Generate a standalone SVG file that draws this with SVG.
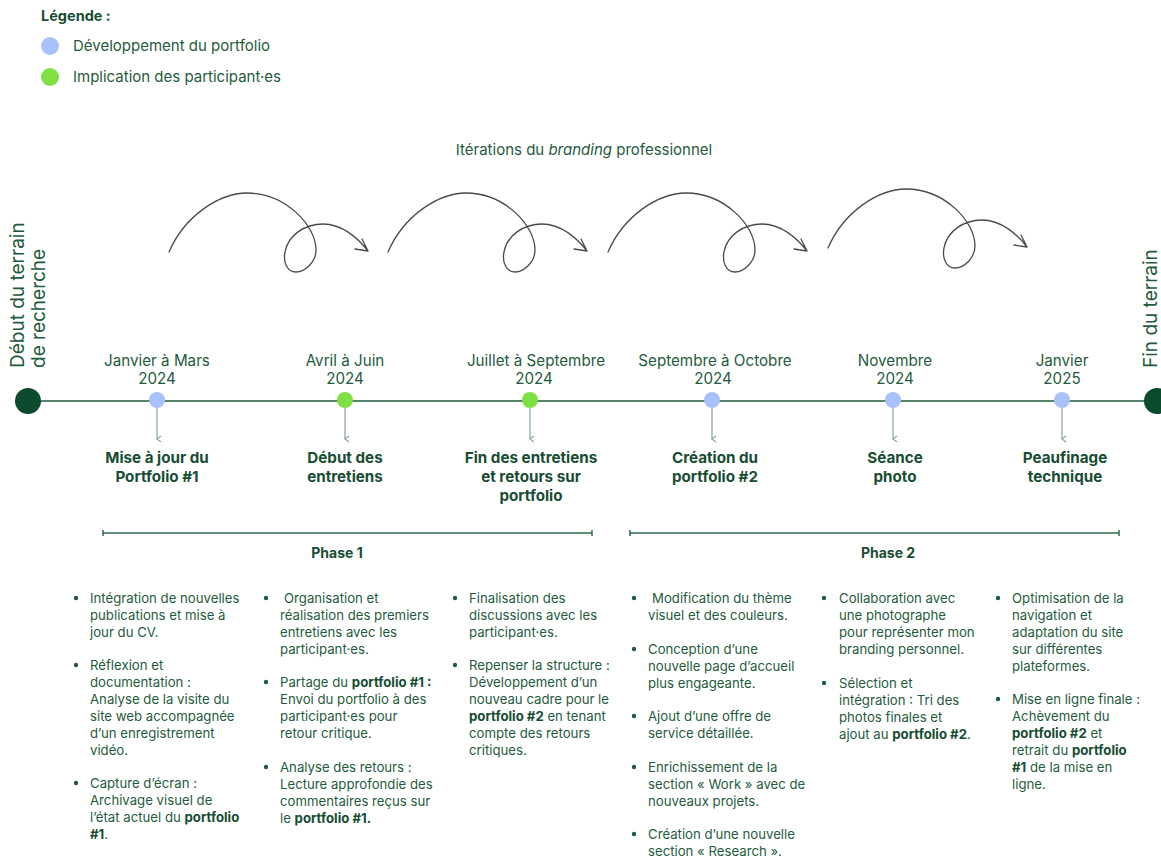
<svg xmlns="http://www.w3.org/2000/svg" width="1161" height="861" viewBox="0 0 1161 861">
<defs>
<style>
text{font-family:Inter,"DejaVu Sans",sans-serif;fill:#1f5b3d}
.leg{font-size:15px}
.legb{font-size:14.5px;font-weight:700;fill:#174d33}
.vert{font-size:19px}
.date{font-size:15.2px;text-anchor:middle}
.title{font-size:15.2px;font-weight:700;text-anchor:middle;fill:#174d33}
.phase{font-size:14px;font-weight:700;text-anchor:middle;fill:#174d33}
.bl{font-size:13.2px}
.bl tspan.b{font-weight:700;fill:#174d33}
.dot{fill:#1f5b3d}
.loop{fill:none;stroke:#4a4a4a;stroke-width:1.3;stroke-linecap:round;stroke-linejoin:round}
.tick{stroke:#8fa99a;stroke-width:1.3}
.ph{stroke:#2e6a4a;stroke-width:1.5}
</style>
<marker id="ah" markerWidth="8" markerHeight="8" refX="4" refY="6" orient="auto" markerUnits="userSpaceOnUse">
<path d="M1,2 L4,6 L7,2" fill="none" stroke="#8fa99a" stroke-width="1.2"/>
</marker>
<path id="squig" class="loop" d="M169,252 C185,215 220,193 247,193 C285,193 316,225 316,250 C316,262 305,272 296,272 C287,272 283,262 285,252 C288,235 305,224 323,224 C342,224 358,238 368,251 M362,239 L368,251 L355,249"/>
</defs>

<g id="legend">
<text class="legb" x="41" y="21">Légende :</text>
<circle cx="50" cy="46" r="9" fill="#a9c1fa"/>
<text class="leg" x="73" y="51">Développement du portfolio</text>
<circle cx="50" cy="77" r="9" fill="#7ee043"/>
<text class="leg" x="73" y="82">Implication des participant·es</text>
</g>

<g id="iterations">
<text class="leg" x="584" y="155" text-anchor="middle">Itérations du <tspan font-style="italic">branding</tspan> professionnel</text>
<use href="#squig"/>
<use href="#squig" transform="translate(219,0)"/>
<use href="#squig" transform="translate(439,0)"/>
<use href="#squig" transform="translate(659,-4)"/>
</g>

<g id="connectors">
<line x1="27" y1="401" x2="1161" y2="401" stroke="#1f5b3d" stroke-width="1.6"/>
<line class="tick" x1="157" y1="408" x2="157" y2="439" marker-end="url(#ah)"/>
<line class="tick" x1="345" y1="408" x2="345" y2="439" marker-end="url(#ah)"/>
<line class="tick" x1="530" y1="408" x2="530" y2="439" marker-end="url(#ah)"/>
<line class="tick" x1="712" y1="408" x2="712" y2="439" marker-end="url(#ah)"/>
<line class="tick" x1="893" y1="408" x2="893" y2="439" marker-end="url(#ah)"/>
<line class="tick" x1="1062" y1="408" x2="1062" y2="439" marker-end="url(#ah)"/>
</g>

<g id="start">
<circle cx="28" cy="401" r="13" fill="#0b4a2c"/>
<text class="vert" transform="translate(24,368) rotate(-90)">Début du terrain</text>
<text class="vert" transform="translate(45,368) rotate(-90)">de recherche</text>
</g>
<g id="end">
<circle cx="1157" cy="401" r="13" fill="#0b4a2c"/>
<text class="vert" transform="translate(1157,368) rotate(-90)">Fin du terrain</text>
</g>

<g id="m1">
<circle cx="157" cy="400" r="8" fill="#a9c1fa"/>
<text class="date" x="157" y="366">Janvier à Mars</text>
<text class="date" x="157" y="384">2024</text>
<text class="title" x="157" y="463">Mise à jour du</text>
<text class="title" x="157" y="482">Portfolio #1</text>
</g>
<g id="m2">
<circle cx="345" cy="400" r="8" fill="#7ee043"/>
<text class="date" x="345" y="366">Avril à Juin</text>
<text class="date" x="345" y="384">2024</text>
<text class="title" x="345" y="463">Début des</text>
<text class="title" x="345" y="482">entretiens</text>
</g>
<g id="m3">
<circle cx="530" cy="400" r="8" fill="#7ee043"/>
<text class="date" x="536" y="366">Juillet à Septembre</text>
<text class="date" x="534" y="384">2024</text>
<text class="title" x="531" y="463">Fin des entretiens</text>
<text class="title" x="531" y="482">et retours sur</text>
<text class="title" x="531" y="501">portfolio</text>
</g>
<g id="m4">
<circle cx="712" cy="400" r="8" fill="#a9c1fa"/>
<text class="date" x="715" y="366">Septembre à Octobre</text>
<text class="date" x="713" y="384">2024</text>
<text class="title" x="715" y="463">Création du</text>
<text class="title" x="715" y="482">portfolio #2</text>
</g>
<g id="m5">
<circle cx="893" cy="400" r="8" fill="#a9c1fa"/>
<text class="date" x="895" y="366">Novembre</text>
<text class="date" x="895" y="384">2024</text>
<text class="title" x="895" y="463">Séance</text>
<text class="title" x="895" y="482">photo</text>
</g>
<g id="m6">
<circle cx="1062" cy="400" r="8" fill="#a9c1fa"/>
<text class="date" x="1062" y="366">Janvier</text>
<text class="date" x="1062" y="384">2025</text>
<text class="title" x="1065" y="463">Peaufinage</text>
<text class="title" x="1065" y="482">technique</text>
</g>

<g id="phase1">
<line class="ph" x1="103" y1="533" x2="592" y2="533"/>
<line class="ph" x1="103" y1="530" x2="103" y2="536"/>
<line class="ph" x1="592" y1="530" x2="592" y2="536"/>
<text class="phase" x="337" y="558">Phase 1</text>
</g>
<g id="phase2">
<line class="ph" x1="630" y1="533" x2="1119" y2="533"/>
<line class="ph" x1="630" y1="530" x2="630" y2="536"/>
<line class="ph" x1="1119" y1="530" x2="1119" y2="536"/>
<text class="phase" x="888" y="558">Phase 2</text>
</g>

<g id="col1">
<circle class="dot" cx="76" cy="598" r="2.2"/>
<text class="bl" x="90" y="603">Intégration de nouvelles</text>
<text class="bl" x="90" y="620">publications et mise à</text>
<text class="bl" x="90" y="637">jour du CV.</text>
<circle class="dot" cx="76" cy="665" r="2.2"/>
<text class="bl" x="90" y="670">Réflexion et</text>
<text class="bl" x="90" y="687">documentation :</text>
<text class="bl" x="90" y="704">Analyse de la visite du</text>
<text class="bl" x="90" y="721">site web accompagnée</text>
<text class="bl" x="90" y="738">d’un enregistrement</text>
<text class="bl" x="90" y="755">vidéo.</text>
<circle class="dot" cx="76" cy="783" r="2.2"/>
<text class="bl" x="90" y="788">Capture d’écran :</text>
<text class="bl" x="90" y="805">Archivage visuel de</text>
<text class="bl" x="90" y="822">l’état actuel du <tspan class="b">portfolio</tspan></text>
<text class="bl" x="90" y="839"><tspan class="b">#1</tspan>.</text>
</g>

<g id="col2">
<circle class="dot" cx="266" cy="598" r="2.2"/>
<text class="bl" x="284" y="603">Organisation et</text>
<text class="bl" x="280" y="620">réalisation des premiers</text>
<text class="bl" x="280" y="637">entretiens avec les</text>
<text class="bl" x="280" y="654">participant·es.</text>
<circle class="dot" cx="266" cy="682" r="2.2"/>
<text class="bl" x="280" y="687">Partage du <tspan class="b">portfolio #1 :</tspan></text>
<text class="bl" x="280" y="704">Envoi du portfolio à des</text>
<text class="bl" x="280" y="721">participant·es pour</text>
<text class="bl" x="280" y="738">retour critique.</text>
<circle class="dot" cx="266" cy="767" r="2.2"/>
<text class="bl" x="280" y="772">Analyse des retours :</text>
<text class="bl" x="280" y="789">Lecture approfondie des</text>
<text class="bl" x="280" y="806">commentaires reçus sur</text>
<text class="bl" x="280" y="823">le <tspan class="b">portfolio #1.</tspan></text>
</g>

<g id="col3">
<circle class="dot" cx="455" cy="598" r="2.2"/>
<text class="bl" x="469" y="603">Finalisation des</text>
<text class="bl" x="469" y="620">discussions avec les</text>
<text class="bl" x="469" y="637">participant·es.</text>
<circle class="dot" cx="455" cy="665" r="2.2"/>
<text class="bl" x="469" y="670">Repenser la structure :</text>
<text class="bl" x="469" y="687">Développement d’un</text>
<text class="bl" x="469" y="704">nouveau cadre pour le</text>
<text class="bl" x="469" y="721"><tspan class="b">portfolio #2</tspan> en tenant</text>
<text class="bl" x="469" y="738">compte des retours</text>
<text class="bl" x="469" y="755">critiques.</text>
</g>

<g id="col4">
<circle class="dot" cx="634" cy="598" r="2.2"/>
<text class="bl" x="652" y="603">Modification du thème</text>
<text class="bl" x="648" y="620">visuel et des couleurs.</text>
<circle class="dot" cx="634" cy="649" r="2.2"/>
<text class="bl" x="648" y="654">Conception d’une</text>
<text class="bl" x="648" y="671">nouvelle page d’accueil</text>
<text class="bl" x="648" y="688">plus engageante.</text>
<circle class="dot" cx="634" cy="716" r="2.2"/>
<text class="bl" x="648" y="721">Ajout d’une offre de</text>
<text class="bl" x="648" y="738">service détaillée.</text>
<circle class="dot" cx="634" cy="767" r="2.2"/>
<text class="bl" x="648" y="772">Enrichissement de la</text>
<text class="bl" x="648" y="789">section « Work » avec de</text>
<text class="bl" x="648" y="806">nouveaux projets.</text>
<circle class="dot" cx="634" cy="834" r="2.2"/>
<text class="bl" x="648" y="839">Création d’une nouvelle</text>
<text class="bl" x="648" y="856">section « Research ».</text>
</g>

<g id="col5">
<circle class="dot" cx="824" cy="598" r="2.2"/>
<text class="bl" x="839" y="603">Collaboration avec</text>
<text class="bl" x="839" y="620">une photographe</text>
<text class="bl" x="839" y="637">pour représenter mon</text>
<text class="bl" x="839" y="654">branding personnel.</text>
<circle class="dot" cx="824" cy="683" r="2.2"/>
<text class="bl" x="839" y="688">Sélection et</text>
<text class="bl" x="839" y="705">intégration : Tri des</text>
<text class="bl" x="839" y="722">photos finales et</text>
<text class="bl" x="839" y="739">ajout au <tspan class="b">portfolio #2</tspan>.</text>
</g>

<g id="col6">
<circle class="dot" cx="998" cy="598" r="2.2"/>
<text class="bl" x="1012" y="603">Optimisation de la</text>
<text class="bl" x="1012" y="620">navigation et</text>
<text class="bl" x="1012" y="637">adaptation du site</text>
<text class="bl" x="1012" y="654">sur différentes</text>
<text class="bl" x="1012" y="671">plateformes.</text>
<circle class="dot" cx="998" cy="699" r="2.2"/>
<text class="bl" x="1012" y="704">Mise en ligne finale :</text>
<text class="bl" x="1012" y="721">Achèvement du</text>
<text class="bl" x="1012" y="738"><tspan class="b">portfolio #2</tspan> et</text>
<text class="bl" x="1012" y="755">retrait du <tspan class="b">portfolio</tspan></text>
<text class="bl" x="1012" y="772"><tspan class="b">#1</tspan> de la mise en</text>
<text class="bl" x="1012" y="789">ligne.</text>
</g>
</svg>
